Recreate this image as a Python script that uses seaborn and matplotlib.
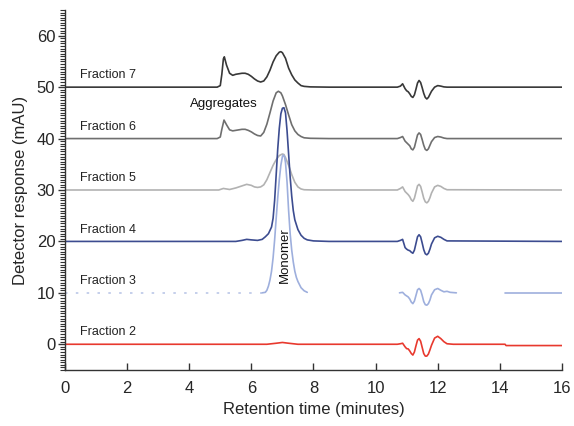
import matplotlib
matplotlib.use("Agg")
import matplotlib.pyplot as plt
from matplotlib.ticker import MultipleLocator
import seaborn as sns
import pandas as pd

# ---------------- data ----------------
f7_time = [0, 4.9, 5.0, 5.05, 5.1, 5.13, 5.2, 5.3, 5.4, 5.5, 5.6, 5.7, 5.8, 5.9, 6.0, 6.1, 6.2, 6.3, 6.4, 6.5,
           6.6, 6.7, 6.8, 6.9, 6.95, 7.0, 7.1, 7.2, 7.3, 7.4, 7.5, 7.6, 7.7, 7.9, 8.5,
           10.7, 10.8, 10.87, 10.95, 11.0, 11.05, 11.1, 11.15, 11.2, 11.25, 11.3, 11.35, 11.4, 11.45, 11.5,
           11.55, 11.6, 11.65, 11.7, 11.75, 11.8, 11.9, 12.0, 12.1, 12.2, 12.3, 16]
f7_values = [50.0, 50.0, 50.3, 52.5, 55.5, 55.9, 54.3, 52.7, 52.3, 52.5, 52.6, 52.7, 52.7, 52.5, 52.1, 51.6, 51.2, 51.0, 51.2, 52.0,
             53.3, 54.9, 56.1, 56.8, 56.9, 56.7, 55.6, 53.7, 52.4, 51.4, 50.8, 50.3, 50.15, 50.05, 50.0,
             50.0, 50.2, 50.65, 49.7, 49.3, 49.1, 48.7, 48.2, 48.0, 48.5, 49.6, 50.8, 51.3, 50.9, 49.9,
             48.8, 48.0, 47.7, 48.0, 48.6, 49.2, 50.0, 50.3, 50.2, 50.05, 50.0, 50.0]

f6_time = [0, 4.9, 5.0, 5.05, 5.12, 5.2, 5.3, 5.4, 5.5, 5.6, 5.7, 5.8, 5.9, 6.0, 6.1, 6.2, 6.3, 6.4, 6.5,
           6.6, 6.7, 6.8, 6.87, 6.95, 7.0, 7.1, 7.2, 7.3, 7.4, 7.5, 7.6, 7.7, 7.9, 8.5,
           10.7, 10.8, 10.87, 10.95, 11.0, 11.05, 11.1, 11.15, 11.2, 11.25, 11.3, 11.35, 11.4, 11.45, 11.5,
           11.55, 11.6, 11.65, 11.7, 11.75, 11.8, 11.9, 12.0, 12.1, 12.2, 12.3, 16]
f6_values = [40.0, 40.0, 40.3, 41.8, 43.6, 42.7, 41.7, 41.5, 41.6, 41.7, 41.8, 41.8, 41.6, 41.3, 40.9, 40.6, 40.5, 41.2, 42.8,
             45.0, 47.3, 48.9, 49.2, 48.9, 48.3, 46.6, 44.6, 42.7, 41.5, 40.8, 40.4, 40.15, 40.05, 40.0,
             40.0, 40.2, 40.4, 39.5, 39.2, 38.9, 38.6, 38.0, 37.8, 38.3, 39.5, 40.7, 41.1, 40.8, 39.8,
             38.7, 37.9, 37.7, 38.0, 38.7, 39.4, 40.2, 40.4, 40.3, 40.1, 40.0, 40.0]

f5_time = [0, 4.95, 5.1, 5.2, 5.3, 5.5, 5.7, 5.85, 6.0, 6.1, 6.2, 6.3, 6.4, 6.5, 6.6, 6.7, 6.8, 6.9, 7.0, 7.05,
           7.1, 7.2, 7.3, 7.4, 7.5, 7.6, 7.7, 8.0,
           10.7, 10.8, 10.87, 10.95, 11.0, 11.05, 11.1, 11.15, 11.2, 11.25, 11.3, 11.35, 11.4, 11.45, 11.5,
           11.55, 11.6, 11.65, 11.7, 11.75, 11.8, 11.9, 12.0, 12.1, 12.2, 12.3, 16]
f5_values = [30.0, 30.0, 30.3, 30.2, 30.1, 30.4, 30.8, 31.1, 30.9, 30.6, 30.5, 30.6, 31.0, 32.0, 33.4, 34.8, 35.9, 36.7, 37.0, 36.9,
             36.3, 34.8, 33.0, 31.5, 30.6, 30.2, 30.05, 30.0,
             30.0, 30.3, 30.6, 29.7, 29.4, 29.1, 28.7, 28.1, 27.8, 28.4, 29.6, 30.8, 31.1, 30.7, 29.6,
             28.4, 27.7, 27.5, 27.8, 28.5, 29.4, 30.6, 30.9, 30.7, 30.3, 30.05, 30.0]

f4_time = [0, 5.5, 5.7, 5.85, 6.0, 6.2, 6.35, 6.45, 6.55, 6.65, 6.7, 6.75, 6.8, 6.85, 6.9, 6.95, 7.0, 7.05,
           7.1, 7.15, 7.2, 7.25, 7.3, 7.35, 7.4, 7.5, 7.6, 7.7, 7.8, 8.0, 8.5,
           10.7, 10.8, 10.87, 10.95, 11.0, 11.05, 11.1, 11.15, 11.2, 11.25, 11.3, 11.35, 11.4, 11.45, 11.5,
           11.55, 11.6, 11.65, 11.7, 11.75, 11.8, 11.9, 12.0, 12.1, 12.2, 12.3, 16]
f4_values = [20.0, 20.0, 20.2, 20.4, 20.3, 20.2, 20.4, 20.9, 21.5, 22.8, 24.5, 28.0, 33.0, 38.0, 42.0, 44.8, 45.9, 46.0,
             45.0, 41.5, 37.0, 32.5, 28.8, 26.0, 24.2, 22.3, 21.2, 20.6, 20.3, 20.1, 20.0,
             20.0, 20.2, 20.4, 18.8, 18.5, 18.3, 18.2, 17.9, 17.7, 18.3, 19.6, 20.9, 21.3, 20.9, 19.7,
             18.4, 17.6, 17.4, 17.7, 18.5, 19.5, 20.7, 21.0, 20.8, 20.4, 20.1, 20.0]

# Fraction 3 is only partly recorded (faint baseline, then gaps)
f3_faint_time = [0, 6.35]
f3_faint_values = [10.0, 10.0]
f3_peak_time = [6.35, 6.45, 6.5, 6.55, 6.6, 6.65, 6.7, 6.75, 6.8, 6.85, 6.9, 6.95, 7.0, 7.03, 7.07,
                7.1, 7.15, 7.2, 7.25, 7.3, 7.35, 7.4, 7.45, 7.5, 7.6, 7.7, 7.8]
f3_peak_values = [10.0, 10.1, 10.5, 11.3, 12.5, 14.2, 16.8, 20.3, 24.5, 28.5, 32.0, 34.8, 36.5, 36.8, 36.4,
                  35.3, 31.5, 26.0, 21.5, 18.3, 16.0, 14.2, 13.0, 12.2, 11.0, 10.4, 10.1]
f3_dist_time = [10.77, 10.87, 10.95, 11.0, 11.05, 11.1, 11.15, 11.2, 11.25, 11.3, 11.35, 11.4, 11.45, 11.5,
                11.55, 11.6, 11.65, 11.7, 11.75, 11.8, 11.9, 12.0, 12.1, 12.2, 12.3, 12.4, 12.6]
f3_dist_values = [10.0, 10.1, 9.6, 9.4, 9.2, 8.8, 8.2, 7.9, 8.4, 9.5, 10.6, 10.85, 10.5, 9.5,
                  8.3, 7.7, 7.6, 7.9, 8.6, 9.6, 10.6, 10.85, 10.5, 10.2, 10.3, 10.1, 10.0]
f3_tail_time = [14.18, 16]
f3_tail_values = [10.0, 10.0]

f2_time = [0, 6.5, 6.8, 7.0, 7.2, 7.5,
           10.7, 10.8, 10.87, 10.95, 11.0, 11.05, 11.1, 11.15, 11.2, 11.25, 11.3, 11.35, 11.4, 11.45, 11.5,
           11.55, 11.6, 11.65, 11.7, 11.75, 11.8, 11.9, 12.0, 12.1, 12.2, 12.3, 12.5, 14.17, 14.2, 16]
f2_values = [0.0, 0.0, 0.2, 0.35, 0.2, 0.0,
             0.0, 0.1, 0.2, -0.5, -0.85, -0.9, -1.3, -1.8, -2.1, -1.5, -0.3, 0.8, 1.1, 0.6, -0.6,
             -1.8, -2.3, -2.3, -1.9, -1.1, -0.2, 1.2, 1.55, 1.1, 0.5, 0.1, 0.0, 0.0, -0.25, -0.25]

fraction_labels = ["Fraction 7", "Fraction 6", "Fraction 5", "Fraction 4", "Fraction 3", "Fraction 2"]
fraction_baselines = [50, 40, 30, 20, 10, 0]
x_ticks = [0, 2, 4, 6, 8, 10, 12, 14, 16]
y_ticks = [0, 10, 20, 30, 40, 50, 60]

# ---------------- styling ----------------
sns.set_style("ticks")
font = ["Liberation Sans", "DejaVu Sans"]
plt.rcParams["font.family"] = font

fig = plt.figure(figsize=(5.74, 4.26), dpi=100)
ax = fig.add_axes([0.1132, 0.1315, 0.8658, 0.845])

c7, c6, c5, c4, c3, c2 = "#383838", "#6f6f6f", "#b2b2b2", "#3c4c90", "#9eafdd", "#e8392e"
lw = 1.2

def draw(t, v, color, **kw):
    df = pd.DataFrame({"t": t, "v": v})
    sns.lineplot(data=df, x="t", y="v", ax=ax, color=color, lw=lw,
                 estimator=None, sort=False, **kw)

draw(f7_time, f7_values, c7)
draw(f6_time, f6_values, c6)
draw(f5_time, f5_values, c5)
draw(f4_time, f4_values, c4)
draw(f3_faint_time, f3_faint_values, c3, linestyle=(0, (1.5, 5)), alpha=0.7)
draw(f3_peak_time, f3_peak_values, c3)
draw(f3_dist_time, f3_dist_values, c3)
draw(f3_tail_time, f3_tail_values, c3)
draw(f2_time, f2_values, c2)

for lab, b in zip(fraction_labels, fraction_baselines):
    ax.text(0.48, b + 2.3, lab, fontsize=9, ha="left", va="center", color="#222222")

ax.text(5.1, 46.8, "Aggregates", fontsize=9.5, ha="center", va="center", color="#111111")
ax.text(7.08, 17.3, "Monomer", fontsize=9.5, ha="center", va="center",
        rotation=90, color="#111111")

ax.set_xlim(0, 16)
ax.set_ylim(-5, 65)
ax.set_xticks(x_ticks)
ax.set_yticks(y_ticks)
ax.yaxis.set_minor_locator(MultipleLocator(0.5))
ax.tick_params(axis="x", direction="in", length=5, width=1, labelsize=12, pad=8, color="#333333")
ax.tick_params(axis="y", which="major", direction="out", length=5, width=1, labelsize=12, pad=2, color="#333333")
ax.tick_params(axis="y", which="minor", direction="out", length=3.5, width=0.8, color="#333333")
ax.set_xlabel("Retention time (minutes)", fontsize=12, labelpad=4)
ax.set_ylabel("Detector response (mAU)", fontsize=12, labelpad=6)
for s in ["top", "right"]:
    ax.spines[s].set_visible(False)
for s in ["left", "bottom"]:
    ax.spines[s].set_color("#333333")
    ax.spines[s].set_linewidth(1.0)

fig.savefig("out.png", dpi=100)
